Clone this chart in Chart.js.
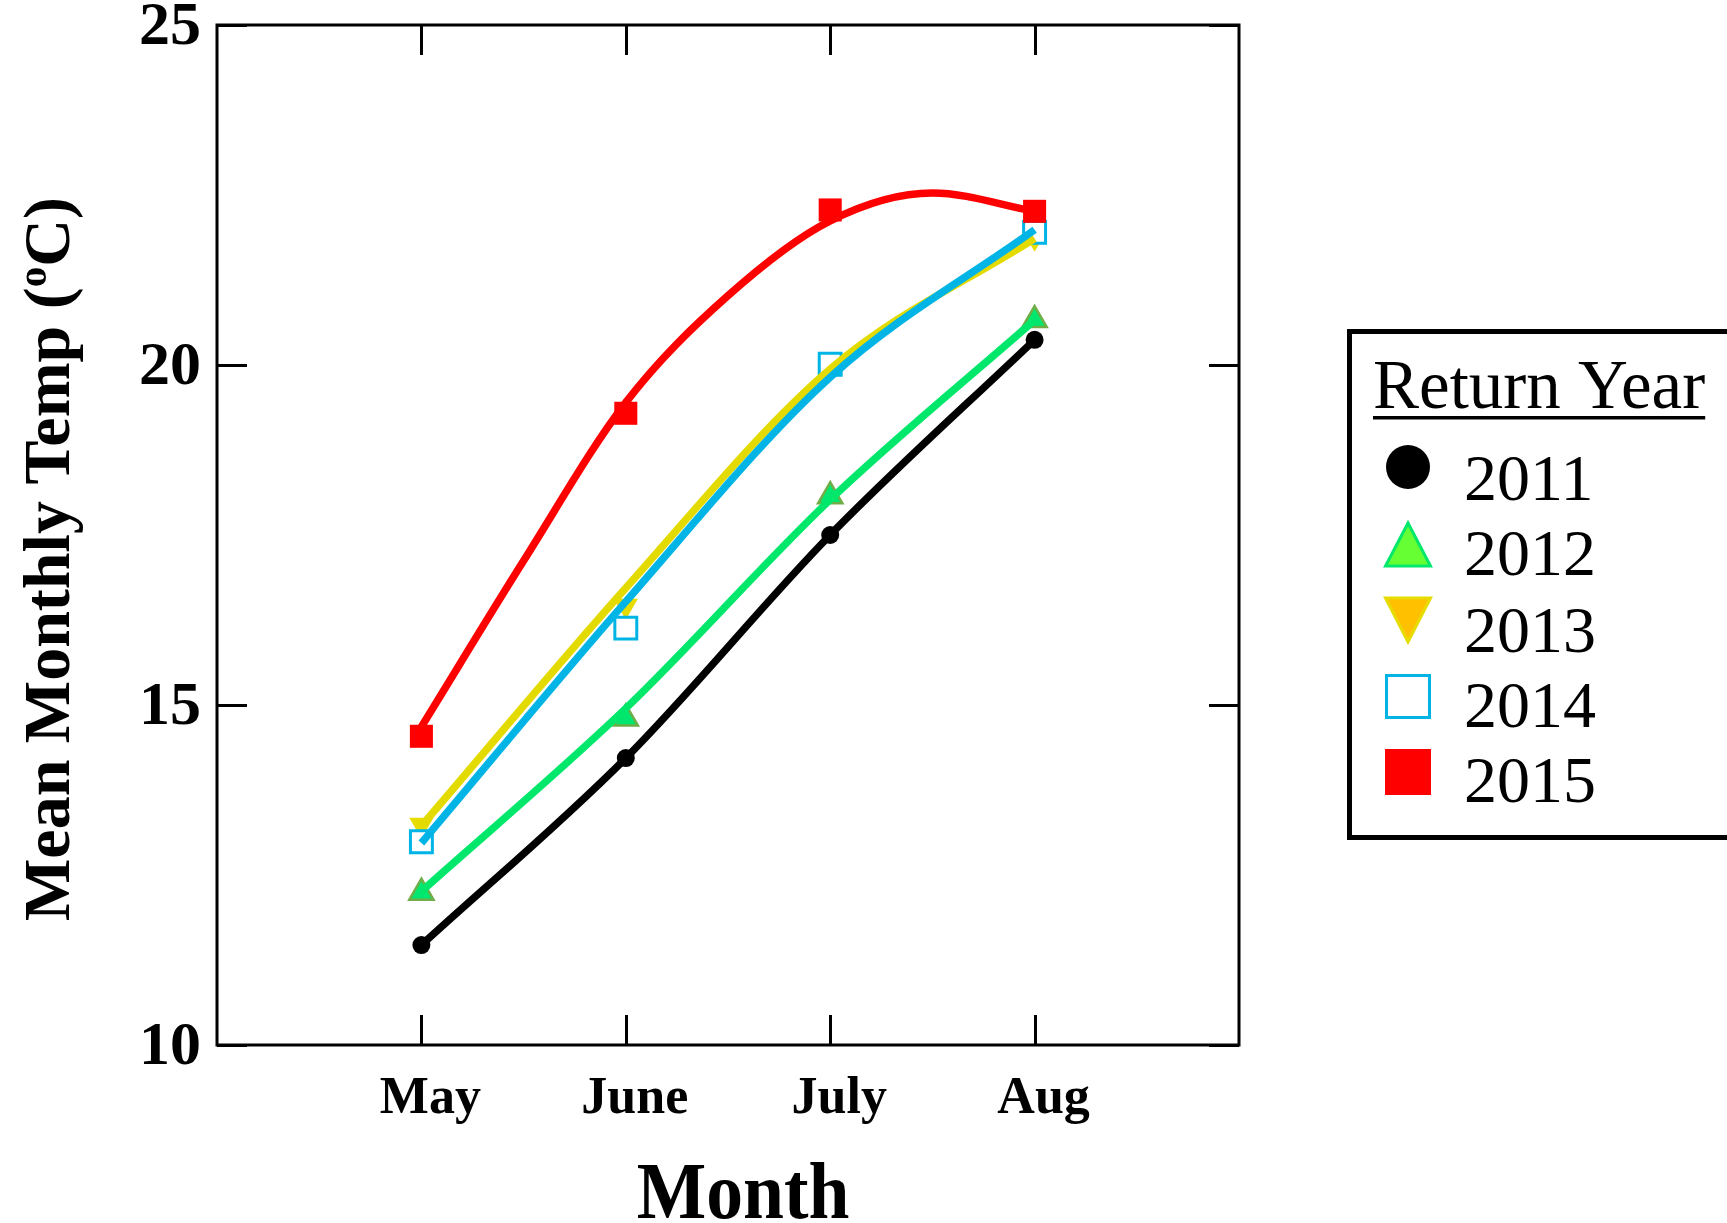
<!DOCTYPE html>
<html>
<head>
<meta charset="utf-8">
<title>Mean Monthly Temp by Return Year</title>
<script src="https://cdn.jsdelivr.net/npm/chart.js@4/dist/chart.umd.min.js"></script>
<style>
  html, body { margin: 0; padding: 0; background: #ffffff; }
  #wrap { width: 1727px; height: 1223px; position: relative; }
</style>
</head>
<body>
<div id="wrap"><canvas id="chart" width="1727" height="1223"></canvas></div>
<script>
// Months on the x axis (positions 1..4 on a 0..5 axis)
const months = ['May', 'June', 'July', 'Aug'];
const yTicks = [10, 15, 20, 25];
const years = ['2011', '2012', '2013', '2014', '2015'];

// Observed mean monthly temperature (°C) per return year
const temp2011 = [11.47, 14.22, 17.50, 20.37];
const temp2012 = [12.24, 14.80, 18.07, 20.66];
const temp2013 = [13.24, 16.46, 20.06, 21.87];
const temp2014 = [12.99, 16.13, 20.01, 21.95];
const temp2015 = [14.54, 19.29, 22.28, 22.26];

// Smoothed trend curve per return year (at each month)
const trend2011 = [11.47, 14.22, 17.50, 20.37];
const trend2012 = [12.26, 14.95, 18.02, 20.66];
const trend2013 = [13.22, 16.72, 19.94, 21.86];
const trend2014 = [12.97, 16.52, 19.82, 21.99];
// 2015 trend sampled every half month (May, mid, June, mid, July, mid, Aug)
const trendPos2015 = [1, 1.5, 2, 2.5, 3, 3.5, 4];
const trend2015 = [14.68, 17.12, 19.45, 21.02, 22.12, 22.53, 22.26];

const FONT = '"Liberation Serif", "Times New Roman", Times, serif';

const toPoints = (arr, pos) => arr.map((v, i) => ({ x: pos ? pos[i] : i + 1, y: v }));

function markerSet(label, arr, style, opts) {
  return Object.assign({
    label: label,
    data: toPoints(arr),
    showLine: false,
    pointStyle: style,
    pointBorderWidth: 0,
    pointHoverRadius: 0
  }, opts);
}

function trendSet(label, arr, color, order, pos) {
  return {
    label: label + ' trend',
    data: toPoints(arr, pos),
    borderColor: color,
    borderWidth: 7.5,
    borderCapStyle: 'butt',
    borderJoinStyle: 'round',
    cubicInterpolationMode: 'monotone',
    pointRadius: 0,
    pointHoverRadius: 0,
    fill: false,
    order: order
  };
}

const datasets = [
  // markers sit underneath the trend curves
  markerSet('2011', temp2011, 'circle', { pointRadius: 9, pointBackgroundColor: '#000000', pointBorderColor: '#000000', order: 20 }),
  markerSet('2012', temp2012, 'triangle', { pointRadius: 14, pointBackgroundColor: '#00e66e', pointBorderColor: '#70ad47', pointBorderWidth: 2.5, order: 19 }),
  markerSet('2013', temp2013, 'triangle', { pointRadius: 14, pointRotation: 180, pointBackgroundColor: '#e6dc00', pointBorderColor: '#e6dc00', order: 18 }),
  markerSet('2014', temp2014, 'rect', { pointRadius: 15.5, pointBackgroundColor: '#ffffff', pointBorderColor: '#00b4e6', pointBorderWidth: 3, order: 17 }),
  markerSet('2015', temp2015, 'rect', { pointRadius: 16.3, pointBackgroundColor: '#ff0000', pointBorderColor: '#ff0000', order: 16 }),
  trendSet('2011', trend2011, '#000000', 5),
  trendSet('2012', trend2012, '#00e86b', 4),
  trendSet('2013', trend2013, '#e3db00', 3),
  trendSet('2014', trend2014, '#00b4e6', 2),
  trendSet('2015', trend2015, '#ff0000', 1, trendPos2015)
];

// Frame, inward ticks, axis labels and titles
const axesPlugin = {
  id: 'boxAxes',
  afterDraw(chart) {
    const { ctx, chartArea: a, scales } = chart;
    const xs = scales.x, ys = scales.y;
    ctx.save();
    ctx.strokeStyle = '#000000';
    ctx.lineWidth = 3;
    ctx.strokeRect(a.left, a.top, a.right - a.left, a.bottom - a.top);
    const tick = 30;
    ctx.beginPath();
    yTicks.forEach(v => {
      const y = Math.round(ys.getPixelForValue(v)) + 0.5;
      ctx.moveTo(a.left, y); ctx.lineTo(a.left + tick, y);
      ctx.moveTo(a.right, y); ctx.lineTo(a.right - tick, y);
    });
    months.forEach((m, i) => {
      const x = Math.round(xs.getPixelForValue(i + 1)) + 0.5;
      ctx.moveTo(x, a.bottom); ctx.lineTo(x, a.bottom - tick);
      ctx.moveTo(x, a.top); ctx.lineTo(x, a.top + tick);
    });
    ctx.stroke();

    ctx.fillStyle = '#000000';
    // y tick labels
    ctx.font = 'bold 62px ' + FONT;
    ctx.textAlign = 'right';
    ctx.textBaseline = 'middle';
    yTicks.forEach(v => {
      ctx.fillText(String(v), a.left - 16, ys.getPixelForValue(v) + 3);
    });
    // x tick labels
    ctx.font = 'bold 52px ' + FONT;
    ctx.textAlign = 'center';
    ctx.textBaseline = 'alphabetic';
    months.forEach((m, i) => {
      ctx.fillText(m, xs.getPixelForValue(i + 1) + 9, a.bottom + 68);
    });
    // x title, slightly condensed
    ctx.save();
    ctx.font = 'bold 80px ' + FONT;
    ctx.translate((a.left + a.right) / 2 + 15, a.bottom + 173);
    ctx.scale(0.92, 1);
    ctx.fillText('Month', 0, 0);
    ctx.restore();

    // y title, rotated, with a raised small "o" for degrees
    const runs = [
      { t: 'Mean Monthly Temp (', f: 'bold 66px ' + FONT, dy: 0 },
      { t: 'o', f: 'bold 41px ' + FONT, dy: -23 },
      { t: 'C)', f: 'bold 66px ' + FONT, dy: 0 }
    ];
    let total = 0;
    runs.forEach(r => { ctx.font = r.f; r.w = ctx.measureText(r.t).width; total += r.w; });
    ctx.translate(69, 559);
    ctx.rotate(-Math.PI / 2);
    ctx.textAlign = 'left';
    let cx = -total / 2;
    runs.forEach(r => { ctx.font = r.f; ctx.fillText(r.t, cx, r.dy); cx += r.w; });
    ctx.restore();
  }
};

// Boxed legend on the right
const legendPlugin = {
  id: 'returnYearLegend',
  afterDraw(chart) {
    const ctx = chart.ctx;
    ctx.save();
    ctx.strokeStyle = '#000000';
    ctx.lineWidth = 5;
    ctx.strokeRect(1349.5, 331.5, 420, 506);

    ctx.fillStyle = '#000000';
    ctx.font = '69px ' + FONT;
    ctx.textAlign = 'left';
    ctx.textBaseline = 'alphabetic';
    const title = 'Return Year';
    ctx.fillText(title, 1373, 408);
    const tw = ctx.measureText(title).width;
    ctx.fillRect(1373, 416, tw, 3.5);

    const baselines = [500, 575, 652, 727, 802];
    const mx = 1408;
    ctx.font = '66px ' + FONT;
    years.forEach((yr, i) => {
      ctx.fillStyle = '#000000';
      ctx.fillText(yr, 1464, baselines[i]);
    });

    // 2011 circle
    ctx.beginPath();
    ctx.arc(mx, 467, 22, 0, Math.PI * 2);
    ctx.fillStyle = '#000000';
    ctx.fill();
    // 2012 up triangle
    ctx.beginPath();
    ctx.moveTo(mx, 523); ctx.lineTo(mx + 22.5, 566); ctx.lineTo(mx - 22.5, 566); ctx.closePath();
    ctx.fillStyle = '#66ff33'; ctx.fill();
    ctx.lineWidth = 3; ctx.strokeStyle = '#00e86b'; ctx.stroke();
    // 2013 down triangle
    ctx.beginPath();
    ctx.moveTo(mx - 22.5, 598); ctx.lineTo(mx + 22.5, 598); ctx.lineTo(mx, 642); ctx.closePath();
    ctx.fillStyle = '#ffc000'; ctx.fill();
    ctx.lineWidth = 3; ctx.strokeStyle = '#e6dc00'; ctx.stroke();
    // 2014 open square
    ctx.fillStyle = '#ffffff';
    ctx.fillRect(1386, 675, 44, 42);
    ctx.lineWidth = 3; ctx.strokeStyle = '#00b4e6';
    ctx.strokeRect(1386.5, 675.5, 43, 42);
    // 2015 filled square
    ctx.fillStyle = '#ff0000';
    ctx.fillRect(1385, 749, 46, 46);
    ctx.restore();
  }
};

new Chart(document.getElementById('chart'), {
  type: 'line',
  data: { datasets: datasets },
  options: {
    responsive: false,
    animation: false,
    events: [],
    layout: { padding: { left: 217, top: 25, right: 488, bottom: 178 } },
    scales: {
      x: { type: 'linear', min: 0, max: 5, display: false },
      y: { type: 'linear', min: 10, max: 25, display: false }
    },
    plugins: {
      legend: { display: false },
      tooltip: { enabled: false }
    }
  },
  plugins: [axesPlugin, legendPlugin]
});
</script>
</body>
</html>
